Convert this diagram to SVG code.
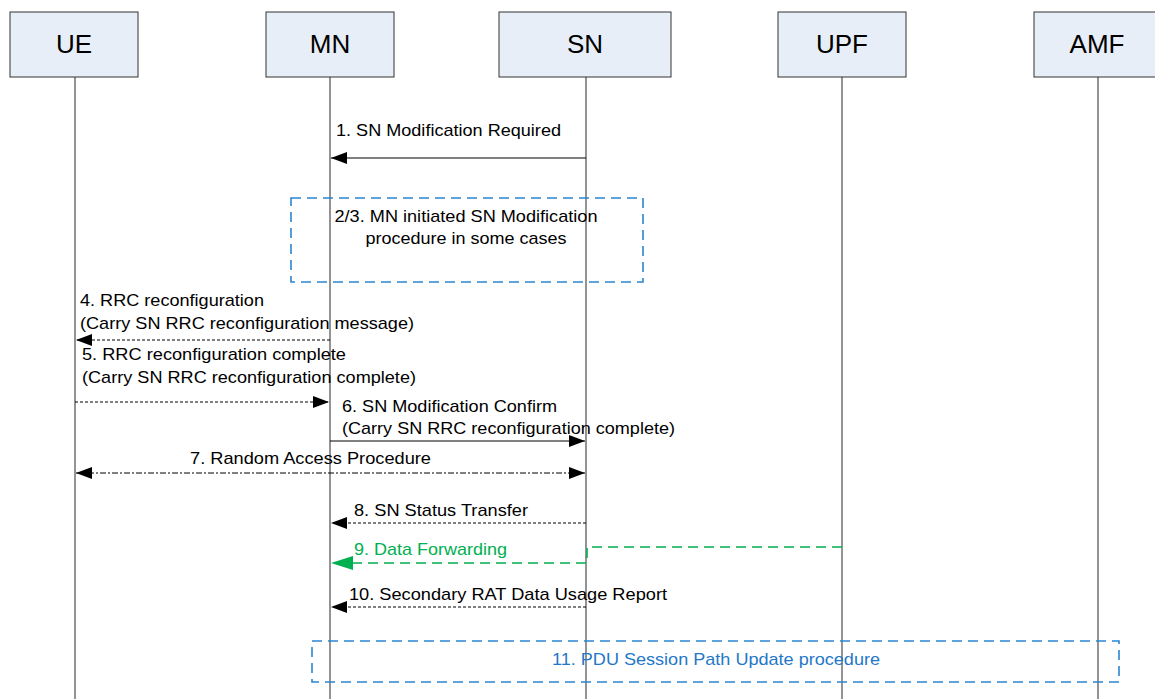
<svg xmlns="http://www.w3.org/2000/svg" width="1155" height="699" viewBox="0 0 1155 699">
<style>
.hdr rect{fill:#e8eef8;stroke:#333;stroke-width:1}
.hdr text{font-family:"Liberation Sans",Arial,sans-serif;font-size:26px;fill:#000;text-anchor:middle}
.life{stroke:#5a5a5a;stroke-width:1.3}
.msg{font-family:"Liberation Sans",Arial,sans-serif;font-size:17px;fill:#000}
.ln{stroke:#000;stroke-width:1;fill:none}
.dash{stroke-dasharray:3,2}
.dd{stroke-dasharray:6,2,2,2}
.blue{stroke:#2a85d0;stroke-width:1.6;fill:none;stroke-dasharray:10,6}
.green{stroke:#00b050;stroke-width:1.6;fill:none;stroke-dasharray:10,6}
</style>
<defs>
<marker id="ah" markerWidth="16" markerHeight="12" refX="16" refY="6" orient="auto-start-reverse" markerUnits="userSpaceOnUse"><path d="M0,0 L16,6 L0,12 z" fill="#000" stroke="none"/></marker>
<marker id="ahg" markerWidth="22" markerHeight="14" refX="22" refY="7" orient="auto" markerUnits="userSpaceOnUse"><path d="M0,0 L22,7 L0,14 z" fill="#00b050" stroke="none"/></marker>
</defs>
<rect width="1155" height="699" fill="#fff"/>
<g id="lifelines">
<line class="life" x1="75" y1="77" x2="75" y2="699"/>
<line class="life" x1="330" y1="77" x2="330" y2="699"/>
<line class="life" x1="586" y1="77" x2="586" y2="699"/>
<line class="life" x1="842" y1="77" x2="842" y2="699"/>
<line class="life" x1="1098" y1="77" x2="1098" y2="699"/>
</g>
<g id="UE" class="hdr"><rect x="10" y="12" width="128" height="65"/><text x="74" y="53">UE</text></g>
<g id="MN" class="hdr"><rect x="266" y="12" width="128" height="65"/><text x="330" y="53">MN</text></g>
<g id="SN" class="hdr"><rect x="499" y="12" width="172" height="65"/><text x="585" y="53">SN</text></g>
<g id="UPF" class="hdr"><rect x="778" y="12" width="128" height="65"/><text x="842" y="53">UPF</text></g>
<g id="AMF" class="hdr"><rect x="1034" y="12" width="128" height="65"/><text x="1097" y="53">AMF</text></g>
<g id="box23">
<rect class="blue" x="291" y="198" width="352" height="84"/>
<text class="msg" x="466" y="222" text-anchor="middle" textLength="263" lengthAdjust="spacingAndGlyphs">2/3. MN initiated SN Modification</text>
<text class="msg" x="466" y="244" text-anchor="middle" textLength="201" lengthAdjust="spacingAndGlyphs">procedure in some cases</text>
</g>
<g id="box11">
<rect class="blue" x="312" y="641" width="807" height="41"/>
<text class="msg" x="716" y="665" text-anchor="middle" fill="#1f78c8" style="fill:#1f78c8" textLength="328" lengthAdjust="spacingAndGlyphs">11. PDU Session Path Update procedure</text>
</g>
<g id="connectors">
<line class="ln" x1="586" y1="158" x2="331" y2="158" marker-end="url(#ah)"/>
<line class="ln dash" x1="330" y1="340" x2="76" y2="340" marker-end="url(#ah)"/>
<line class="ln dash" x1="75" y1="402" x2="329" y2="402" marker-end="url(#ah)"/>
<line class="ln" x1="330" y1="441" x2="585" y2="441" marker-end="url(#ah)"/>
<line class="ln dd" x1="76" y1="473" x2="585" y2="473" marker-start="url(#ah)" marker-end="url(#ah)"/>
<line class="ln dash" x1="586" y1="523" x2="331" y2="523" marker-end="url(#ah)"/>
<path class="green" d="M842,547 H587 V563 H331" marker-end="url(#ahg)"/>
<line class="ln dash" x1="586" y1="607" x2="331" y2="607" marker-end="url(#ah)"/>
</g>
<g id="labels">
<text class="msg" x="336" y="136" textLength="225" lengthAdjust="spacingAndGlyphs">1. SN Modification Required</text>
<text class="msg" x="80" y="306" textLength="184" lengthAdjust="spacingAndGlyphs">4. RRC reconfiguration</text>
<text class="msg" x="80" y="329" textLength="334" lengthAdjust="spacingAndGlyphs">(Carry SN RRC reconfiguration message)</text>
<text class="msg" x="82" y="360" textLength="264" lengthAdjust="spacingAndGlyphs">5. RRC reconfiguration complete</text>
<text class="msg" x="82" y="383" textLength="334" lengthAdjust="spacingAndGlyphs">(Carry SN RRC reconfiguration complete)</text>
<text class="msg" x="342" y="412" textLength="215" lengthAdjust="spacingAndGlyphs">6. SN Modification Confirm</text>
<text class="msg" x="342" y="434" textLength="333" lengthAdjust="spacingAndGlyphs">(Carry SN RRC reconfiguration complete)</text>
<text class="msg" x="190" y="464" textLength="241" lengthAdjust="spacingAndGlyphs">7. Random Access Procedure</text>
<text class="msg" x="354" y="516" textLength="174" lengthAdjust="spacingAndGlyphs">8. SN Status Transfer</text>
<text class="msg" x="354" y="555" style="fill:#00b050" textLength="153" lengthAdjust="spacingAndGlyphs">9. Data Forwarding</text>
<text class="msg" x="349" y="600" textLength="318" lengthAdjust="spacingAndGlyphs">10. Secondary RAT Data Usage Report</text>
</g>
</svg>
